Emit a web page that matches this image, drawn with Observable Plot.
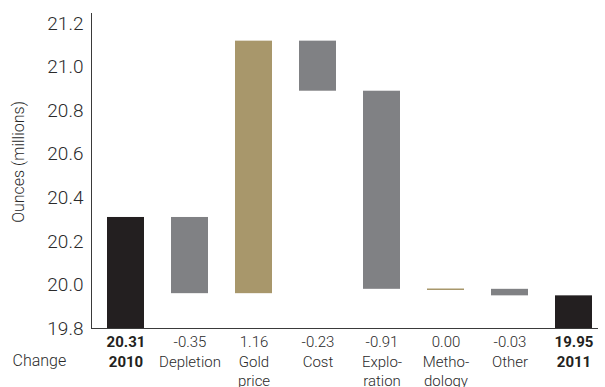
<!DOCTYPE html>
<html>
<head>
<meta charset="utf-8">
<script src="https://cdn.jsdelivr.net/npm/d3@7"></script>
<script src="https://cdn.jsdelivr.net/npm/@observablehq/plot@0.6"></script>
<style>
  html, body { margin: 0; padding: 0; background: #fff; }
  #chart svg { display: block; }
</style>
</head>
<body>
<div id="chart"></div>
<script>
// Reserve bridge, 2010 -> 2011 (millions of ounces)
const categories = ["2010", "Depletion", "Gold price", "Cost", "Exploration", "Methodology", "Other", "2011"];
const categoryLabels = ["2010", "Depletion", "Gold\nprice", "Cost", "Explo-\nration", "Metho-\ndology", "Other", "2011"];
// first and last entries are totals, the rest are changes
const values = [20.31, -0.35, 1.16, -0.23, -0.91, 0.00, -0.03, 19.95];
const isTotal = [true, false, false, false, false, false, false, true];
const yTicks = [19.8, 20.0, 20.2, 20.4, 20.6, 20.8, 21.0, 21.2];
const yMin = 19.8;
const yMax = 21.247;

const colors = {total: "#231f20", down: "#808184", up: "#a8976b"};

// running totals for the floating bars
let level = 0;
const rows = categories.map((name, i) => {
  const v = values[i];
  let start, end, color;
  if (isTotal[i]) {
    start = yMin; end = v; level = v; color = colors.total;
  } else {
    start = level; end = level + v; level = end;
    color = v < 0 ? colors.down : colors.up;
  }
  const valueText = isTotal[i]
    ? v.toFixed(2)
    : (v < 0 ? "-" : "") + Math.abs(v).toFixed(2);
  return {name, start, end, color, total: isTotal[i], zero: !isTotal[i] && v === 0,
          label: valueText + "\n" + categoryLabels[i]};
});

const font = "Roboto, 'Liberation Sans', Arial, sans-serif";

const chart = Plot.plot({
  width: 605,
  height: 387,
  marginLeft: 91,
  marginRight: 7,
  marginTop: 13,
  marginBottom: 59,
  style: {fontFamily: font, fontWeight: 300, color: "#333", background: "#fff", overflow: "visible"},
  x: {domain: categories, paddingInner: 0.415, paddingOuter: 0, insetLeft: 13, insetRight: 2, axis: null},
  y: {domain: [yMin, yMax], axis: null},
  color: {type: "identity"},
  marks: [
    Plot.barY(rows.filter(d => !d.zero), {x: "name", y1: "start", y2: "end", fill: "color"}),
    Plot.tickY(rows.filter(d => d.zero), {x: "name", y: "end", stroke: colors.up, strokeWidth: 1.5}),
    Plot.axisY({ticks: yTicks, tickSize: 0, tickPadding: 8, tickFormat: d3.format(".1f"),
                label: null, fontSize: 19, fill: "#2a2a2a"}),
    Plot.frame({anchor: "left", stroke: "#3a3a3a"}),
    Plot.ruleY([yMin], {stroke: "#3a3a3a"}),
    Plot.text(rows.filter(d => !d.total), {x: "name", text: "label", frameAnchor: "bottom",
              lineAnchor: "top", dy: 5, lineHeight: 1.3, fontSize: 15, fill: "#2a2a2a"}),
    Plot.text(rows.filter(d => d.total), {x: "name", text: "label", frameAnchor: "bottom",
              lineAnchor: "top", dy: 5, lineHeight: 1.3, fontSize: 15, fontWeight: 700, fill: "#231f20"}),
    Plot.text(["Change"], {text: d => d, frameAnchor: "bottom-left", textAnchor: "start",
              lineAnchor: "bottom", dx: -79, dy: 37, fontSize: 16, fill: "#2a2a2a"}),
    Plot.text(["Ounces (millions)"], {text: d => d, frameAnchor: "left", textAnchor: "middle",
              rotate: -90, dx: -72.5, dy: -9, fontSize: 16, fill: "#2a2a2a"})
  ]
});

document.getElementById("chart").appendChild(chart);
</script>
</body>
</html>
